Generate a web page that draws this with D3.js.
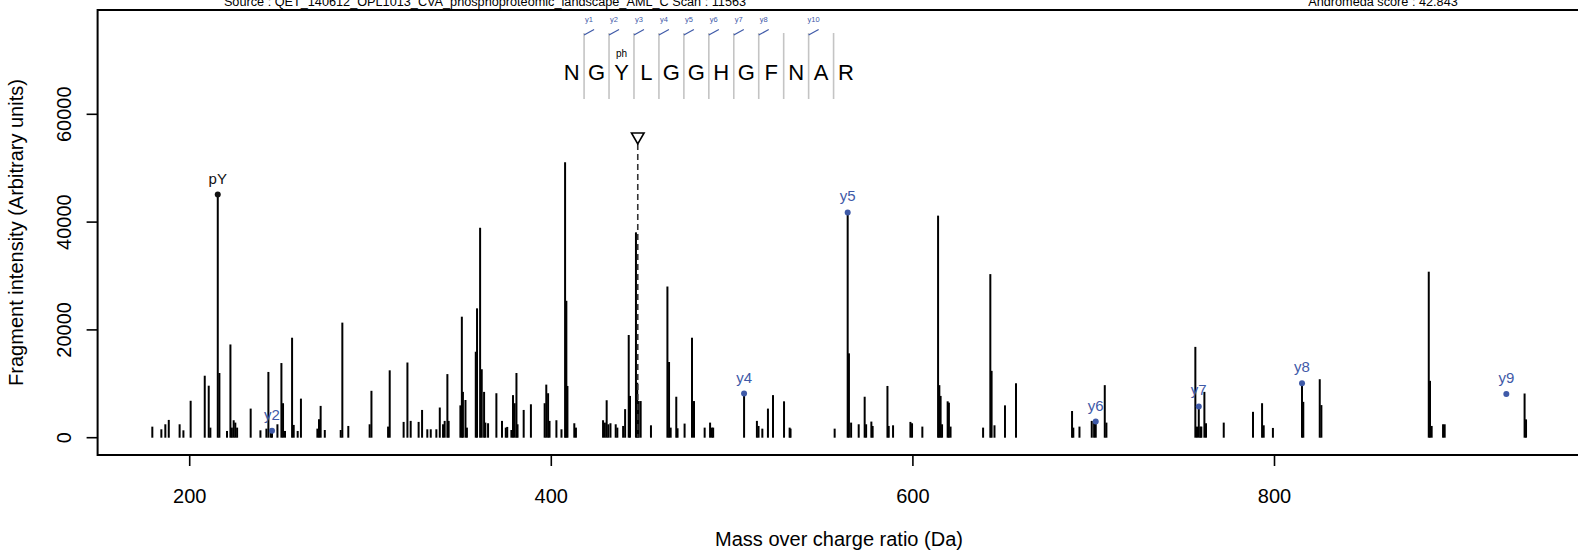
<!DOCTYPE html>
<html><head><meta charset="utf-8">
<script src="https://cdn.jsdelivr.net/npm/d3@7"></script>
<style>
body{margin:0;background:#fff}
text{font-family:"Liberation Sans",Arial,Helvetica,sans-serif}
</style>
</head><body><svg id="c" width="1578" height="550"></svg>
<script>
// ---------- data ----------
const peakMz = [179.6,184.6,186.8,188.7,194.7,196.8,200.8,208.6,210.8,211.7,215.8,216.7,220.9,222.8,223.6,224.6,225.5,226.5,234.0,239.4,242.7,243.8,245.1,245.8,248.8,251.0,251.9,253.0,256.9,257.8,260.0,261.8,270.9,271.8,272.7,275.0,283.8,284.7,288.0,299.8,300.8,310.0,310.9,318.6,320.7,322.5,326.9,328.8,331.7,333.6,336.7,338.6,340.4,341.3,342.8,343.5,350.0,350.8,351.4,352.8,353.6,358.5,359.2,360.9,361.8,363.1,363.8,365.3,369.9,373.0,375.1,375.9,378.2,379.1,380.0,381.0,381.6,385.0,389.0,396.6,397.5,398.5,399.3,403.1,405.9,407.9,408.6,409.2,413.0,413.9,428.9,429.9,430.9,431.8,433.0,435.9,436.8,440.0,441.1,443.1,443.8,447.1,447.8,448.6,449.7,455.4,464.5,465.4,466.3,469.4,470.1,474.0,478.1,479.2,485.1,488.1,489.1,489.8,506.9,514.0,514.9,517.0,520.1,522.9,529.0,532.1,532.6,557.0,564.2,564.9,566.1,570.3,573.6,574.4,577.3,578.0,586.2,586.9,589.3,598.9,599.8,605.5,614.2,614.9,615.6,616.4,619.5,620.2,621.1,639.1,643.1,643.8,645.4,651.2,657.3,688.3,689.0,692.4,699.2,700.5,701.4,706.4,707.3,756.5,757.4,758.4,759.3,759.8,761.5,762.4,772.2,788.4,793.4,794.3,799.4,815.5,816.2,825.3,826.2,885.6,886.3,887.2,893.5,894.4,938.6,939.4];
const peakIntensity = [2050,1560,2490,3300,2490,1370,6850,11500,9650,1870,45100,12000,1250,17300,1870,3240,2800,1870,5400,1370,1680,12200,1680,1300,2490,13850,6400,1250,18550,2370,1250,7250,1680,3430,5900,1430,1430,21350,2180,2490,8700,2060,12500,2930,13950,3120,2930,5150,1560,1560,1560,5600,2490,3120,11800,3120,6000,22450,8500,7000,1870,15950,24000,38950,12700,8500,2800,2680,8250,3120,1870,2000,1430,7900,6400,12000,2490,5150,6200,6400,9850,8250,3120,3240,1560,51100,25400,9600,2680,1870,3240,2800,6950,2490,2680,2490,1870,2180,5300,19050,7750,38100,10200,6800,6800,2300,28050,14050,1870,7600,1750,2620,18550,6800,1870,2800,1870,1870,8200,3120,2180,1680,5400,7900,6750,1870,1680,1680,41800,15650,2800,2490,7600,2490,2990,2180,9600,2180,2300,2930,2680,2060,41200,9750,7750,2490,6750,6500,2060,1870,30350,12400,2300,6000,10100,4950,1870,2060,3120,2800,3000,9750,2800,16850,2060,5800,2060,2060,8500,2680,2800,4800,6400,2300,1810,10100,6650,10850,6050,30800,10550,2180,2490,2490,8200,3400];

const ionLabels = ["pY","y2","y4","y5","y6","y7","y8","y9"];
const ionMz = [215.8,245.8,506.9,564.2,701.4,758.4,815.5,928.5];
const ionIntensity = [45100,1300,8200,41800,3000,5800,10100,8100];
const ionKind = ["immonium","y","y","y","y","y","y","y"];

const sequence = ["N","G","Y","L","G","G","H","G","F","N","A","R"];
const separatorIonLabels = ["y1","y2","y3","y4","y5","y6","y7","y8","","y10",""];
const modPosition = [2];
const modLabel = ["ph"];

const precursorMz = 448.1;
const precursorMarkY = 54500;

const xTicks = [200,400,600,800];
const yTicks = [0,20000,40000,60000];

const sourceText = "Source : QET_140612_OPL1013_CVA_phosphoproteomic_landscape_AML_C   Scan : 11563";
const scoreText = "Andromeda score : 42.843";
const xTitle = "Mass over charge ratio (Da)";
const yTitle = "Fragment intensity (Arbitrary units)";

// ---------- drawing ----------
const BLUE = "#3f5aa8";
const svg = d3.select("#c");
svg.append("rect").attr("width",1578).attr("height",550).attr("fill","#fff");

const x = d3.scaleLinear().domain([200,800]).range([189.2,1274]);
const y = d3.scaleLinear().domain([0,60000]).range([437.7,114.3]);

const box = {left:97.6, top:10, right:1582, bottom:455};

// header texts (partly clipped at the top edge, as in the original)
svg.append("text").attr("x",485).attr("y",5.5).attr("text-anchor","middle")
  .attr("font-size",12.7).text(sourceText);
svg.append("text").attr("x",1383).attr("y",5.5).attr("text-anchor","middle")
  .attr("font-size",12.7).text(scoreText);

// peaks
svg.append("g").selectAll("line").data(d3.zip(peakMz, peakIntensity)).join("line")
  .attr("x1",d=>x(d[0])).attr("x2",d=>x(d[0]))
  .attr("y1",y(0)).attr("y2",d=>y(d[1]))
  .attr("stroke","#000").attr("stroke-width",2);

// precursor marker
const px = x(precursorMz), py = y(precursorMarkY);
svg.append("line").attr("x1",px).attr("x2",px).attr("y1",py).attr("y2",y(0))
  .attr("stroke","#333").attr("stroke-width",1.6).attr("stroke-dasharray","6,4");
svg.append("path").attr("d",`M${px-6.3},${py-11}L${px+6.3},${py-11}L${px},${py}Z`)
  .attr("fill","#fff").attr("stroke","#000").attr("stroke-width",1.6);

// annotated ions
const ions = ionLabels.map((l,i)=>({l, mz:ionMz[i], v:ionIntensity[i], c: ionKind[i]==="y"?BLUE:"#111"}));
svg.append("g").selectAll("circle").data(ions).join("circle")
  .attr("cx",d=>x(d.mz)).attr("cy",d=>y(d.v)).attr("r",3).attr("fill",d=>d.c);
svg.append("g").selectAll("text").data(ions).join("text")
  .attr("x",d=>x(d.mz)).attr("y",d=>y(d.v)-11).attr("text-anchor","middle")
  .attr("font-size",15).attr("fill",d=>d.c).text(d=>d.l);

// peptide sequence
const seqX0 = 571.6, seqStep = 24.95;
const sg = svg.append("g");
sg.selectAll("text.aa").data(sequence).join("text").attr("class","aa")
  .attr("x",(d,i)=>seqX0+i*seqStep).attr("y",80).attr("text-anchor","middle")
  .attr("font-size",22).text(d=>d);
const seps = separatorIonLabels.map((l,i)=>({l, sx: seqX0+(i+0.5)*seqStep}));
sg.selectAll("line.sep").data(seps).join("line").attr("class","sep")
  .attr("x1",d=>d.sx).attr("x2",d=>d.sx).attr("y1",33).attr("y2",99)
  .attr("stroke","#c4c4c4").attr("stroke-width",1.6);
const lab = seps.filter(d=>d.l);
sg.selectAll("line.yi").data(lab).join("line").attr("class","yi")
  .attr("x1",d=>d.sx).attr("y1",35).attr("x2",d=>d.sx+10).attr("y2",29.5)
  .attr("stroke",BLUE).attr("stroke-width",1.2);
sg.selectAll("text.yl").data(lab).join("text").attr("class","yl")
  .attr("x",d=>d.sx+5).attr("y",21.5).attr("text-anchor","middle")
  .attr("font-size",7.5).attr("fill",BLUE).text(d=>d.l);
sg.selectAll("text.mod").data(modPosition).join("text").attr("class","mod")
  .attr("x",d=>seqX0+d*seqStep).attr("y",57).attr("text-anchor","middle")
  .attr("font-size",10).text((d,i)=>modLabel[i]);

// box
svg.append("path")
  .attr("d",`M${box.right},${box.top}H${box.left}V${box.bottom}H${box.right}`)
  .attr("fill","none").attr("stroke","#000").attr("stroke-width",2);

// axes
const ya = svg.append("g").attr("transform",`translate(${box.left},0)`)
  .call(d3.axisLeft(y).tickValues(yTicks).tickSize(11).tickFormat(d3.format("d")));
ya.select(".domain").remove();
ya.selectAll("line").attr("stroke","#000").attr("stroke-width",1.6);
ya.selectAll("text").attr("font-size",20).attr("fill","#000")
  .attr("font-family",'"Liberation Sans",Arial,sans-serif')
  .attr("transform",d=>`rotate(-90,${-34},${y(d)})`)
  .attr("x",-34).attr("y",d=>y(d)).attr("dy","0.35em")
  .attr("text-anchor","middle");
ya.selectAll(".tick").attr("transform",null);
ya.selectAll(".tick line").attr("y1",d=>y(d)).attr("y2",d=>y(d));

const xa = svg.append("g").attr("transform",`translate(0,${box.bottom})`)
  .call(d3.axisBottom(x).tickValues(xTicks).tickSize(11).tickPadding(24).tickFormat(d3.format("d")));
xa.select(".domain").remove();
xa.selectAll("line").attr("stroke","#000").attr("stroke-width",1.6);
xa.selectAll("text").attr("font-size",20).attr("fill","#000")
  .attr("font-family",'"Liberation Sans",Arial,sans-serif')
  .attr("y",41).attr("dy","0.35em");

// titles
svg.append("text").attr("x",839).attr("y",546).attr("text-anchor","middle")
  .attr("font-size",20).text(xTitle);
svg.append("text").attr("transform",`translate(23,${(box.top+box.bottom)/2}) rotate(-90)`)
  .attr("text-anchor","middle").attr("font-size",20).text(yTitle);
</script></body></html>
